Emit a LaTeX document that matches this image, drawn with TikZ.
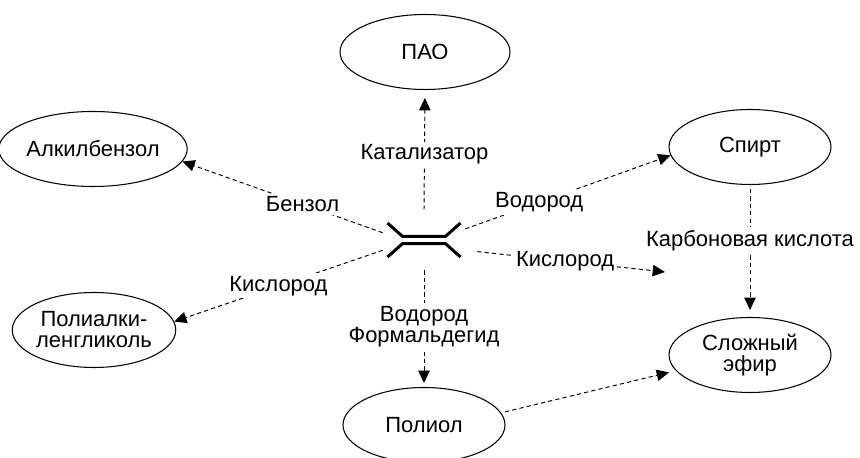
\documentclass[tikz,border=0pt]{standalone}
\usepackage{fontspec}
\setmainfont{Liberation Sans}
\usetikzlibrary{shapes.geometric,arrows.meta}
\tikzset{product/.style={ellipse,draw,line width=0.6pt,minimum width=3.24cm,minimum height=1.5cm,inner sep=0pt,align=center}}
\tikzset{reagent/.style={fill=white,inner sep=1.5pt,align=center}}
\tikzset{toArrow/.style={-{Triangle[length=7pt,width=6.5pt]},line width=0.55pt,dash pattern=on 2.4pt off 1.8pt}}
\tikzset{bond/.style={line width=1.7pt}}

\begin{document}
\begin{tikzpicture}[font=\fontsize{12.5}{12}\selectfont]
\useasboundingbox (0,0) rectangle (17.2,9.16);
\node (pao) [product, minimum width=3.4cm] at (8.5,8.12) {ПАО};
\node (alk) [product] at (1.86,6.18) {Алкилбензол};
\node (spirt) [product] at (15.0,6.22) {Спирт};
\node (pag) [product] at (1.88,2.56) {Полиалки-\\ленгликоль};
\node (ester) [product] at (15.0,2.06) {Сложный\\эфир};
\node (poliol) [product] at (8.48,0.66) {Полиол};
\node (mol) [minimum width=1.64cm,minimum height=1.2cm] at (8.48,4.36) {};
\coordinate (oxid) at (13.3,3.72);
\begin{scope}[shift={(mol.center)}]
\draw [bond] (-0.73,0.34) -- (-0.43,0.073) -- (0.43,0.073) -- (0.73,0.34);
\draw [bond] (-0.73,-0.34) -- (-0.43,-0.073) -- (0.43,-0.073) -- (0.73,-0.34);
\end{scope}
\draw [toArrow, shorten >=0.16cm] (mol.north) -- node [reagent, pos=0.46] {Катализатор} (pao.south);
\draw [toArrow] (mol.170) -- node [reagent, pos=0.4] {Бензол} (alk.-8);
\draw [toArrow] (mol.194) -- node [reagent, pos=0.5] {Кислород} (pag.6);
\draw [toArrow] (mol.15) -- node [reagent, pos=0.36] {Водород} (spirt.186);
\draw [toArrow, shorten <=0.24cm] (mol.-14) -- node [reagent, pos=0.5] {Кислород} (oxid);
\draw [toArrow, shorten >=0.08cm] (mol.south) -- node [reagent, pos=0.48] {Водород\\Формальдегид} (poliol.north);
\draw [toArrow, shorten <=0.08cm, shorten >=0.14cm] (spirt.south) -- node [reagent, pos=0.42] {Карбоновая кислота} (ester.north);
\draw [toArrow, shorten <=0.08cm, shorten >=0.14cm] (poliol.9) -- (ester.192);
\end{tikzpicture}
\end{document}
